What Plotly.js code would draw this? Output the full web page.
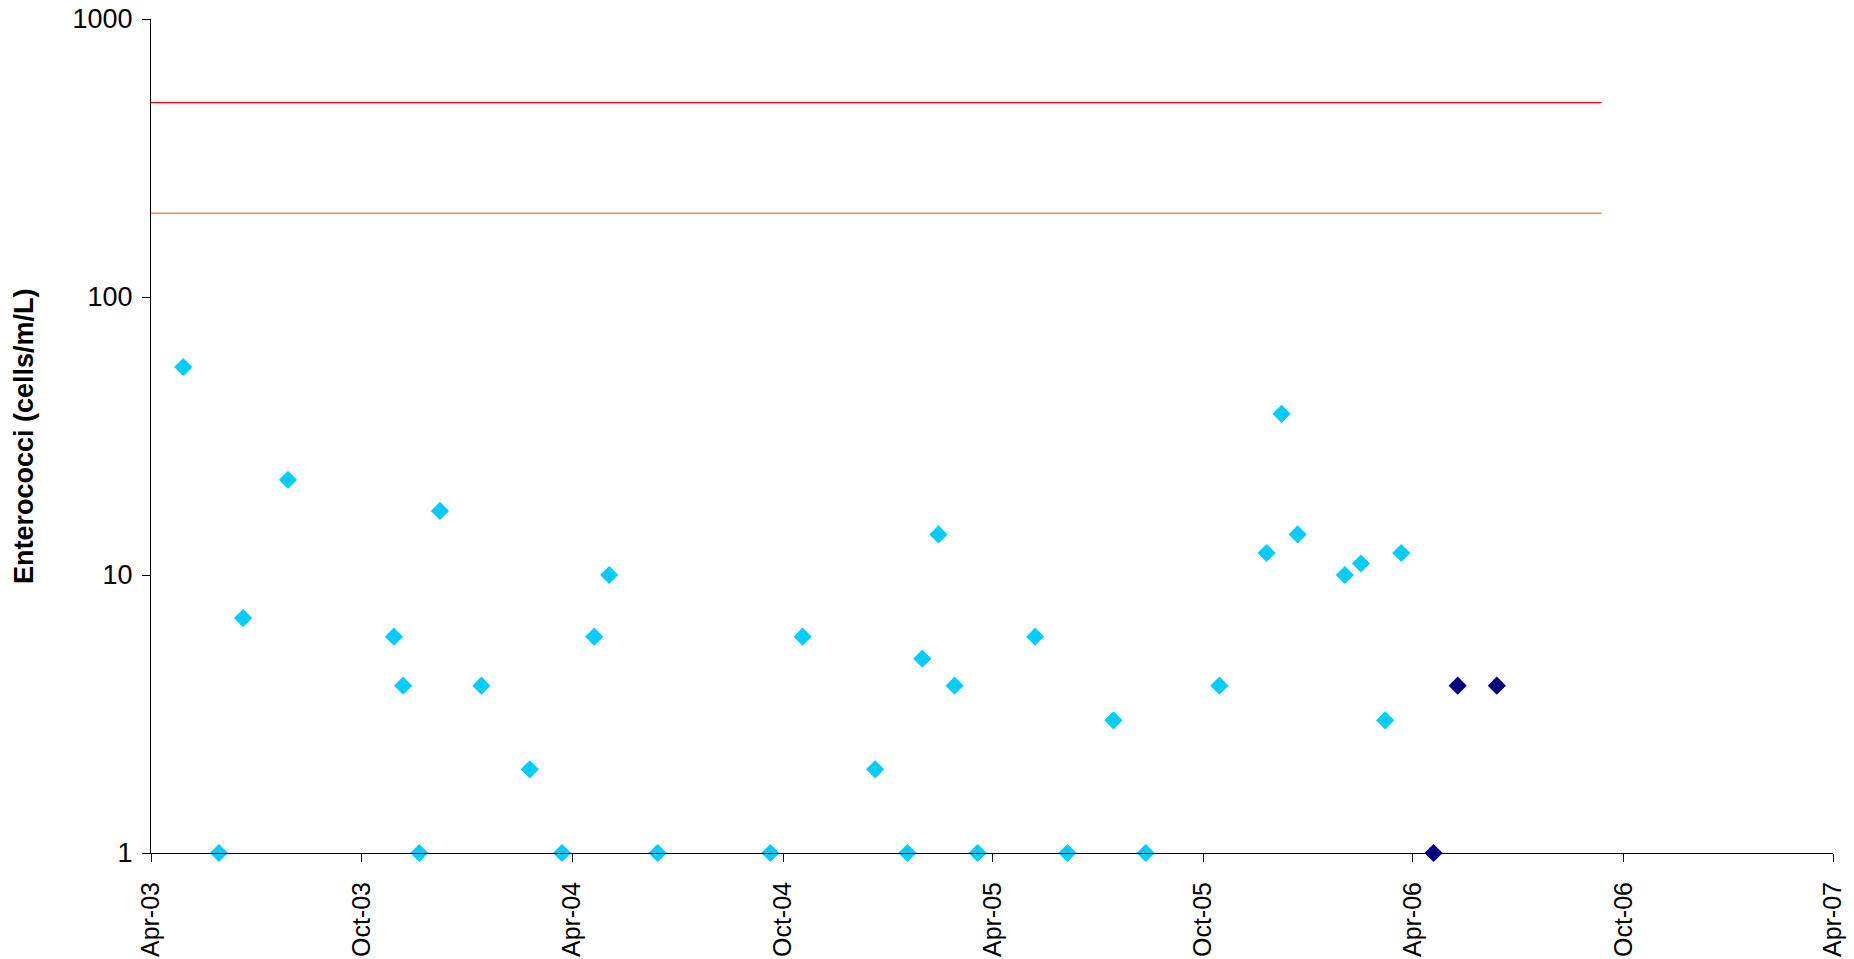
<!DOCTYPE html>
<html>
<head>
<meta charset="utf-8">
<script src="https://cdn.plot.ly/plotly-3.0.1.min.js"></script>
<style>html,body{margin:0;padding:0;background:#fff;}#chart{width:1854px;height:959px;}</style>
</head>
<body>
<div id="chart"></div>
<script>
// Series 1 (light blue)
const dates1 = ['2003-04-29','2003-05-30','2003-06-20','2003-07-29','2003-10-29','2003-11-06','2003-11-20','2003-12-08','2004-01-13','2004-02-24','2004-03-23','2004-04-20','2004-05-03','2004-06-14','2004-09-20','2004-10-18','2004-12-20','2005-01-17','2005-01-30','2005-02-13','2005-02-27','2005-03-19','2005-05-08','2005-06-05','2005-07-15','2005-08-12','2005-10-15','2005-11-25','2005-12-08','2005-12-22','2006-02-01','2006-02-15','2006-03-08','2006-03-22'];
const values1 = [56,1,7,22,6,4,1,17,4,2,1,6,10,1,1,6,2,1,5,14,4,1,6,1,3,1,4,12,38,14,10,11,3,12];
// Series 2 (navy)
const dates2 = ['2006-04-19','2006-05-10','2006-06-13'];
const values2 = [1,4,4];
// Guideline thresholds
const guideDates = ['2003-04-01','2006-09-12'];
const redLevel = [500,500];
const orangeLevel = [200,200];
// Axis ticks
const xTickVals = ['2003-04-01','2003-10-01','2004-04-01','2004-10-01','2005-04-01','2005-10-01','2006-04-01','2006-10-01','2007-04-01'];
const xTickText = ['Apr-03','Oct-03','Apr-04','Oct-04','Apr-05','Oct-05','Apr-06','Oct-06','Apr-07'];
const yTickVals = [1,10,100,1000];
const yTickText = ['1','10','100','1000'];
const yTitle = 'Enterococci (cells/m/L)';

const font = '"Liberation Sans", Arial, sans-serif';

const traces = [
  {x: guideDates, y: redLevel, mode: 'lines', line: {color: '#FF0000', width: 1.3}, hoverinfo: 'skip'},
  {x: guideDates, y: orangeLevel, mode: 'lines', line: {color: '#FF8A3D', width: 1.5}, hoverinfo: 'skip'},
  {x: dates1, y: values1, mode: 'markers', cliponaxis: false,
   marker: {symbol: 'diamond', size: 14, color: '#00CCFF', line: {width: 0}}},
  {x: dates2, y: values2, mode: 'markers', cliponaxis: false,
   marker: {symbol: 'diamond', size: 14, color: '#000080', line: {width: 0}}}
];

const layout = {
  width: 1854, height: 959,
  margin: {l: 151, r: 21, t: 19, b: 106},
  paper_bgcolor: '#fff', plot_bgcolor: '#fff',
  showlegend: false,
  font: {family: font, color: '#000'},
  xaxis: {
    type: 'date',
    range: ['2003-04-01','2007-04-01'],
    tickvals: xTickVals, ticktext: xTickText,
    tickangle: -90,
    tickfont: {size: 25, family: font, color: '#000'},
    ticks: 'outside', ticklen: 8, tickwidth: 1, tickcolor: '#000',
    showline: true, linecolor: '#000', linewidth: 1,
    showgrid: false, zeroline: false,
    ticklabelstandoff: 10
  },
  yaxis: {
    type: 'log',
    range: [0, 3],
    tickvals: yTickVals, ticktext: yTickText,
    tickfont: {size: 27, family: font, color: '#000'},
    ticks: 'outside', ticklen: 8, tickwidth: 1, tickcolor: '#000',
    showline: true, linecolor: '#000', linewidth: 1,
    showgrid: false, zeroline: false,
    ticklabelstandoff: 4
  },
  annotations: [{
    text: '<b>' + yTitle + '</b>', xref: 'paper', yref: 'paper',
    x: -0.0755, y: 0.5, xanchor: 'center', yanchor: 'middle',
    textangle: -90, showarrow: false,
    font: {size: 27, family: font, color: '#000'}
  }]
};

Plotly.newPlot('chart', traces, layout, {displayModeBar: false, staticPlot: true});
</script>
</body>
</html>
